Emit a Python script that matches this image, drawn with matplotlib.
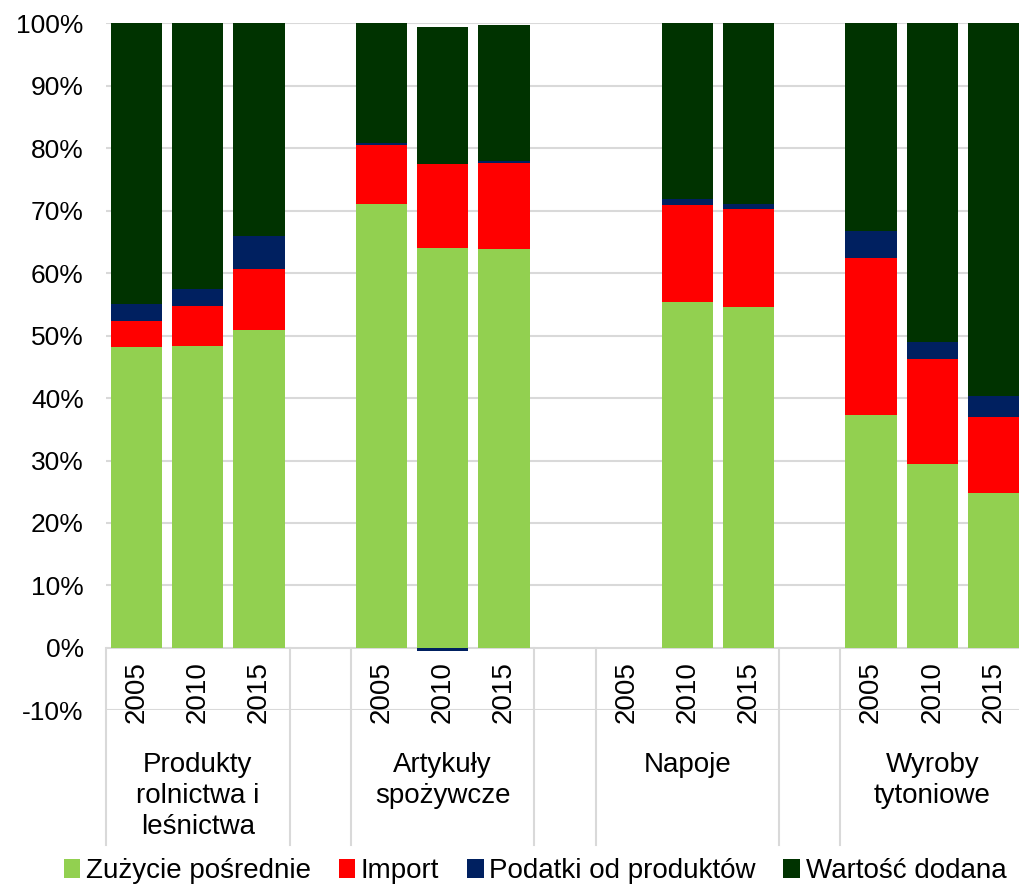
import matplotlib.pyplot as plt
import numpy as np

plt.rcParams['font.family'] = ['Liberation Sans', 'DejaVu Sans']

groups = ['Produkty\nrolnictwa i\nleśnictwa', 'Artykuły\nspożywcze', 'Napoje', 'Wyroby\ntytoniowe']
years = ['2005', '2010', '2015']

# udzialy w % (kolejnosc: grupa x rok)
zuzycie = [48.1, 48.4, 50.9, 71.0, 64.0, 63.9, 0, 55.4, 54.6, 37.3, 29.4, 24.8]
importy = [4.2, 6.3, 9.7, 9.5, 13.4, 13.7, 0, 15.5, 15.6, 25.1, 16.9, 12.1]
podatki = [2.7, 2.7, 5.4, 0.3, -0.5, 0.3, 0, 1.0, 0.8, 4.4, 2.6, 3.4]
wartosc = [45.0, 42.6, 34.0, 19.2, 21.9, 21.8, 0, 28.1, 29.0, 33.2, 51.1, 59.7]

series = [zuzycie, importy, podatki, wartosc]
names = ['Zużycie pośrednie', 'Import', 'Podatki od produktów', 'Wartość dodana']
colors = ['#92D050', '#FF0000', '#002060', '#003300']

fig = plt.figure(figsize=(10.19, 8.89), dpi=100)
ax = fig.add_axes([0.104, 0.2008, 0.901, 0.7733])

x = []
for g in range(len(groups)):
    for i in range(len(years)):
        x.append(4 * g + i)
x = np.array(x)

pos = np.zeros(len(x))
neg = np.zeros(len(x))
for vals, name, c in zip(series, names, colors):
    v = np.array(vals, dtype=float)
    bottom = np.where(v >= 0, pos, neg)
    ax.bar(x, v, 0.84, bottom=bottom, color=c, label=name, zorder=3)
    pos = pos + np.where(v >= 0, v, 0)
    neg = neg + np.where(v < 0, v, 0)

ax.set_xlim(-0.5, 14.5)
ax.set_ylim(-10, 100)
ax.set_yticks(np.arange(-10, 101, 10))
ax.set_yticklabels([f'{t}%' for t in range(-10, 101, 10)], fontsize=19)
ax.tick_params(axis='y', length=0, pad=16)
ax.set_xticks([])
ax.grid(axis='y', color='#d9d9d9', linewidth=1.5, zorder=0)
for s in ax.spines.values():
    s.set_visible(False)

# linie podzialu kategorii pod osia
for xs in [-0.5, 2.5, 3.5, 6.5, 7.5, 10.5, 11.5, 14.5]:
    ax.plot([xs, xs], [0, -31.5], color='#d9d9d9', linewidth=1.5, clip_on=False, zorder=1)

for xi, k in zip(x, range(len(x))):
    ax.text(xi, -7.0, years[k % 3], rotation=90, ha='center', va='center', fontsize=20, zorder=4)

for g, label in enumerate(groups):
    ax.text(4 * g + 1, -16.6, label, ha='center', va='top', fontsize=20, linespacing=1.25)

leg = fig.legend(loc='center', bbox_to_anchor=(0.525, 0.02), ncol=4, frameon=False,
                 fontsize=20, handlelength=0.6, handleheight=0.7, handletextpad=0.2,
                 columnspacing=1.0, borderpad=0)

fig.savefig('out.png', dpi=100)
